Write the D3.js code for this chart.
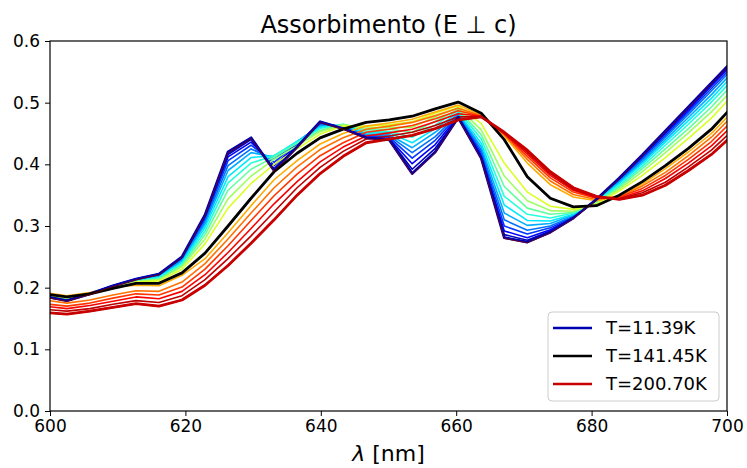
<!DOCTYPE html>
<html>
<head>
<meta charset="utf-8">
<script src="https://cdn.jsdelivr.net/npm/d3@7"></script>
<style>
  body { margin: 0; background: #fff; }
  text { font-family: "DejaVu Sans", sans-serif; fill: #000; }
</style>
</head>
<body>
<div id="chart"></div>
<script>
// wavelengths of the measured points (nm)
var wavelengths = [599.1, 602.5, 605.9, 609.3, 612.7, 616.1, 619.5, 622.9, 626.3, 629.7,
  633.1, 636.5, 639.9, 643.3, 646.7, 650.1, 653.5, 656.9, 660.3, 663.7,
  667.1, 670.5, 673.9, 677.3, 680.7, 684.1, 687.5, 690.9, 694.3, 697.7, 701.1];

// absorption spectra, coldest first
var s00 = [.186,.179,.190,.203,.214,.222,.250,.318,.420,.443,.390,.428,.469,.458,.443,.440,.385,.420,.476,.410,.281,.274,.290,.313,.343,.378,.415,.454,.493,.532,.571];
var s01 = [.186,.179,.190,.203,.214,.222,.249,.316,.416,.440,.393,.430,.468,.459,.444,.441,.392,.426,.477,.412,.286,.277,.292,.314,.343,.377,.414,.452,.491,.530,.569];
var s02 = [.186,.179,.190,.203,.214,.221,.248,.314,.412,.436,.398,.432,.467,.460,.445,.442,.401,.432,.478,.415,.292,.281,.294,.314,.342,.376,.412,.450,.488,.527,.566];
var s03 = [.186,.180,.190,.203,.213,.220,.247,.311,.406,.431,.403,.434,.466,.461,.446,.444,.410,.439,.479,.419,.300,.287,.297,.315,.342,.375,.410,.447,.485,.523,.562];
var s04 = [.187,.180,.190,.202,.213,.219,.245,.307,.398,.425,.408,.436,.464,.462,.448,.446,.419,.445,.481,.423,.310,.293,.300,.316,.341,.373,.407,.444,.481,.519,.558];
var s05 = [.187,.181,.190,.202,.212,.218,.244,.303,.390,.419,.412,.437,.462,.463,.449,.448,.427,.452,.482,.428,.321,.301,.304,.318,.341,.371,.404,.440,.476,.513,.553];
var s06 = [.187,.181,.190,.202,.212,.217,.241,.298,.380,.411,.414,.437,.460,.464,.451,.451,.435,.458,.484,.434,.334,.309,.308,.319,.340,.369,.401,.436,.471,.507,.547];
var s07 = [.188,.182,.190,.201,.211,.216,.239,.292,.370,.402,.414,.436,.458,.465,.454,.453,.444,.464,.487,.441,.348,.319,.313,.321,.339,.366,.397,.431,.465,.501,.540];
var s08 = [.188,.182,.190,.201,.210,.214,.236,.286,.358,.392,.412,.434,.455,.465,.456,.457,.452,.470,.489,.448,.364,.329,.319,.322,.338,.363,.393,.425,.458,.493,.533];
var s09 = [.189,.183,.190,.200,.210,.213,.234,.279,.344,.381,.408,.430,.453,.464,.459,.460,.460,.477,.492,.456,.381,.341,.325,.324,.337,.360,.388,.419,.451,.485,.524];
var s10 = [.189,.184,.190,.200,.209,.211,.230,.271,.329,.369,.400,.425,.449,.462,.462,.464,.469,.483,.495,.466,.402,.355,.332,.327,.335,.357,.382,.411,.442,.475,.515];
var s11 = [.190,.185,.190,.199,.207,.207,.224,.256,.300,.345,.388,.418,.443,.457,.468,.472,.478,.490,.501,.483,.440,.380,.345,.331,.333,.350,.372,.398,.426,.457,.497];
var s12 = [.192,.187,.192,.201,.204,.203,.220,.247,.289,.333,.375,.406,.433,.450,.462,.467,.473,.485,.496,.480,.446,.402,.367,.347,.341,.349,.368,.393,.420,.450,.489];
var s13 = [.180,.175,.180,.188,.195,.194,.209,.239,.279,.321,.362,.396,.424,.443,.457,.462,.468,.479,.491,.479,.448,.408,.373,.351,.343,.348,.365,.387,.414,.444,.482];
var s14 = [.174,.170,.175,.183,.190,.188,.201,.230,.268,.309,.349,.384,.414,.435,.452,.457,.463,.474,.487,.478,.449,.413,.378,.355,.345,.347,.361,.382,.408,.437,.474];
var s15 = [.170,.166,.171,.178,.185,.182,.194,.221,.257,.296,.336,.372,.404,.428,.446,.451,.457,.469,.482,.478,.450,.417,.382,.358,.346,.345,.357,.377,.402,.430,.466];
var s16 = [.165,.162,.166,.173,.179,.176,.187,.213,.247,.284,.323,.362,.395,.421,.441,.446,.452,.463,.477,.477,.451,.420,.385,.360,.347,.344,.354,.371,.396,.423,.458];
var s17 = [.160,.157,.162,.168,.174,.170,.180,.204,.236,.272,.310,.350,.385,.413,.435,.441,.447,.458,.472,.477,.452,.423,.388,.362,.348,.343,.350,.366,.390,.416,.450];

var spectra = [s00,s01,s02,s03,s04,s05,s06,s07,s08,s09,s10,s11,s12,s13,s14,s15,s16,s17];

// curves picked out in the legend
var highlights = [
  {idx:0,  label:"T=11.39K",  colour:"#0000b0"},
  {idx:11, label:"T=141.45K", colour:"#000000"},
  {idx:17, label:"T=200.70K", colour:"#c80000"}
];

var xTicks = [600, 620, 640, 660, 680, 700];
var yTicks = [0.0, 0.1, 0.2, 0.3, 0.4, 0.5, 0.6];

var W = 747, H = 468;
var plotL = 50, plotR = 727, plotT = 41, plotB = 411;

// matplotlib "jet"
function jet(t) {
  function c(v) { return Math.max(0, Math.min(1, v)); }
  var r = c(1.5 - Math.abs(4*t - 3));
  var g = c(1.5 - Math.abs(4*t - 2));
  var b = c(1.5 - Math.abs(4*t - 1));
  return d3.rgb(r*255, g*255, b*255).toString();
}

var svg = d3.select("#chart").append("svg")
  .attr("width", W)
  .attr("height", H);

var x = d3.scaleLinear().domain([600, 700]).range([plotL, plotR]);
var y = d3.scaleLinear().domain([0, 0.6]).range([plotB, plotT]);

svg.append("clipPath").attr("id", "plotClip")
  .append("rect")
  .attr("x", plotL).attr("y", plotT)
  .attr("width", plotR - plotL).attr("height", plotB - plotT);

var line = d3.line()
  .x(function(d, i) { return x(wavelengths[i]); })
  .y(function(d) { return y(d); });

var plot = svg.append("g").attr("clip-path", "url(#plotClip)");

// all temperatures in jet colours
plot.selectAll(".spectrum")
  .data(spectra)
  .enter()
  .append("path")
  .attr("class", "spectrum")
  .attr("d", line)
  .attr("fill", "none")
  .attr("stroke", function(d, i) { return jet(i / (spectra.length - 1)); })
  .attr("stroke-width", 1.6)
  .attr("stroke-linejoin", "round");

// highlighted ones on top
plot.selectAll(".highlight")
  .data(highlights)
  .enter()
  .append("path")
  .attr("class", "highlight")
  .attr("d", function(d) { return line(spectra[d.idx]); })
  .attr("fill", "none")
  .attr("stroke", function(d) { return d.colour; })
  .attr("stroke-width", 2.8)
  .attr("stroke-linejoin", "round");

// thin dark red trace that sits on the cold curve
plot.append("path")
  .attr("d", line(s00))
  .attr("fill", "none")
  .attr("stroke", "#800000")
  .attr("stroke-width", 0.8)
  .attr("transform", "translate(0,0.8)");

// axes
var xAxis = svg.append("g")
  .attr("transform", "translate(0," + plotB + ")")
  .call(d3.axisBottom(x).tickValues(xTicks).tickSize(5).tickPadding(4).tickFormat(d3.format("d")));
var yAxis = svg.append("g")
  .attr("transform", "translate(" + plotL + ",0)")
  .call(d3.axisLeft(y).tickValues(yTicks).tickSize(5).tickPadding(5).tickFormat(d3.format(".1f")));

[xAxis, yAxis].forEach(function(a) {
  a.select(".domain").remove();
  a.selectAll("line").attr("stroke", "#000").attr("stroke-width", 1);
  a.selectAll("text").style("font-size", "17px").attr("fill", "#000");
});

svg.append("rect")
  .attr("x", plotL).attr("y", plotT)
  .attr("width", plotR - plotL).attr("height", plotB - plotT)
  .attr("fill", "none")
  .attr("stroke", "#000")
  .attr("stroke-width", 1.2);

// title and label
svg.append("text")
  .attr("x", (plotL + plotR) / 2)
  .attr("y", 33)
  .attr("text-anchor", "middle")
  .style("font-size", "24px")
  .text("Assorbimento (E \u22a5 c)");

var xl = svg.append("text")
  .attr("x", (plotL + plotR) / 2)
  .attr("y", 461)
  .attr("text-anchor", "middle")
  .style("font-size", "22px");
xl.append("tspan").style("font-style", "italic").text("\u03bb");
xl.append("tspan").text(" [nm]");

// legend
var legend = svg.append("g");
legend.append("rect")
  .attr("x", 548).attr("y", 312)
  .attr("width", 171).attr("height", 89)
  .attr("rx", 4)
  .attr("fill", "#fff").attr("fill-opacity", 0.8)
  .attr("stroke", "#cccccc");

legend.selectAll(".entry")
  .data(highlights)
  .enter()
  .append("g")
  .attr("class", "entry")
  .attr("transform", function(d, i) { return "translate(553," + (328 + i * 28) + ")"; })
  .each(function(d) {
    d3.select(this).append("line")
      .attr("x1", 0).attr("x2", 39)
      .attr("stroke", d.colour)
      .attr("stroke-width", 2.6);
    d3.select(this).append("text")
      .attr("x", 53)
      .attr("dy", "0.35em")
      .style("font-size", "18px")
      .text(d.label);
  });
</script>
</body>
</html>
